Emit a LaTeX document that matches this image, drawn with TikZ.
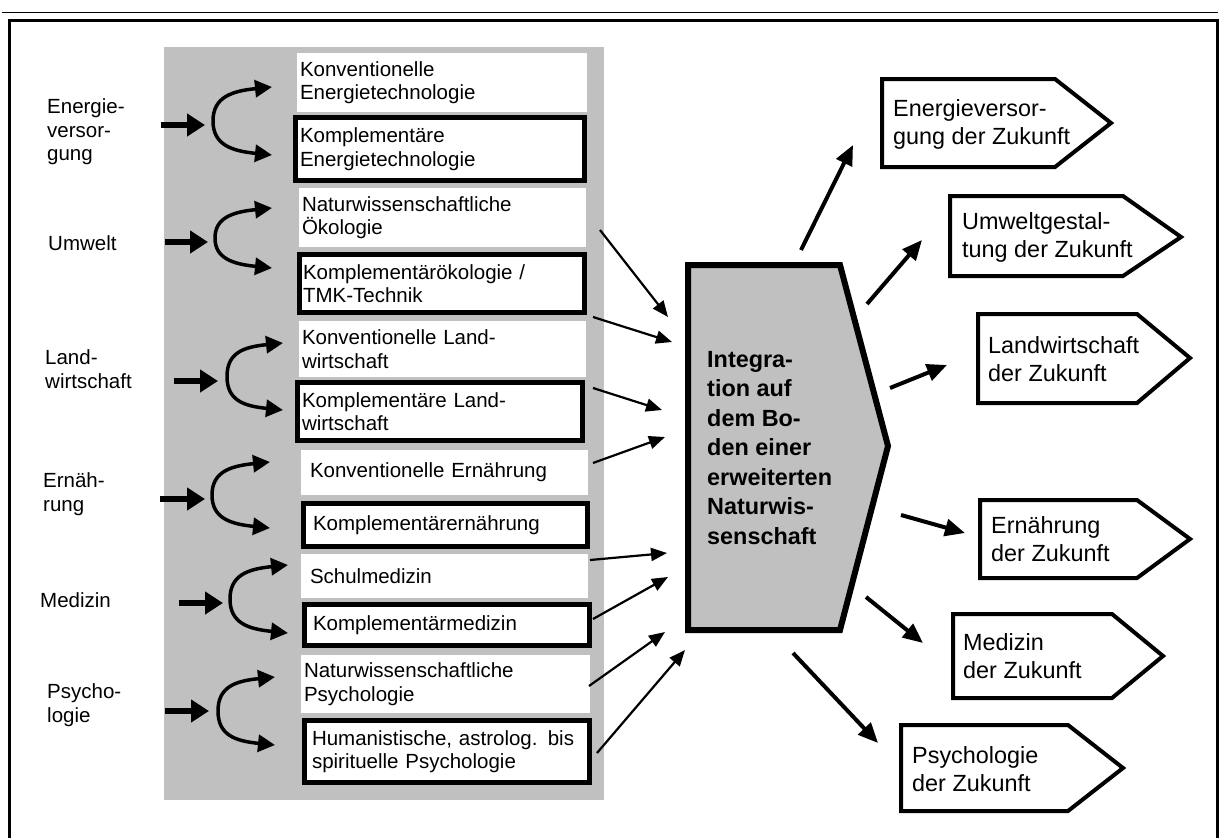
\documentclass[tikz,border=0pt]{standalone}
\usepackage{fontspec}
\setmainfont{Liberation Sans}
\usetikzlibrary{arrows.meta}
\definecolor{panelgrey}{RGB}{192,192,192}

\begin{document}
\begin{tikzpicture}[x=1pt,y=-1pt,
  lefttext/.style={font=\fontsize{20.5}{23.5}\selectfont, align=left, inner sep=0pt, anchor=west},
  wbox/.style={fill=white, font=\fontsize{20.5}{23.5}\selectfont, align=left, inner ysep=0pt},
  kbox/.style={wbox, draw=black, line width=5pt, line join=miter},
  fatarrow/.style={line width=6pt, -{Triangle[length=18pt,width=22pt]}},
  swing/.style={line width=3.5pt, {Triangle[length=17pt,width=17pt]}-{Triangle[length=17pt,width=17pt]}},
  feed/.style={line width=2.2pt, -{Triangle[length=16pt,width=13pt]}},
  outarrow/.style={line width=4pt, -{Triangle[length=20pt,width=17pt]}},
  goal/.style={draw=black, line width=4pt, fill=white, line join=miter},
  goaltext/.style={font=\fontsize{23.4}{28}\selectfont, align=left, inner sep=0pt, anchor=west}
]
\useasboundingbox (0,0) rectangle (1220,838);

% outer frame
\draw[line width=1pt] (2,12) -- (1218,12);
\draw[line width=3pt, line join=miter] (9,838) -- (9,20) -- (1217,20) -- (1217,838);

% grey panel behind the alternatives
\fill[panelgrey] (164,47) rectangle (604,800);

% domain labels
\node[lefttext] (lE)  at (47,132) {Energie-\\versor-\\gung};
\node[lefttext] (lU)  at (48,243) {Umwelt};
\node[lefttext] (lL)  at (45,369) {Land-\\wirtschaft};
\node[lefttext] (lEr) at (43,494) {Ernäh-\\rung};
\node[lefttext] (lM)  at (40,600) {Medizin};
\node[lefttext] (lP)  at (47,705) {Psycho-\\logie};

% conventional / complementary alternatives
\node[wbox, minimum width=290pt, minimum height=59pt, text width=284pt, inner xsep=3pt] (b1) at (442,82.5) {Konventionelle\\Energietechnologie};
\node[kbox, minimum width=289pt, minimum height=63pt, text width=280pt, inner xsep=4.5pt] (b2) at (440,149) {Komplementäre\\Energietechnologie};
\node[wbox, minimum width=287pt, minimum height=59pt, text width=281pt, inner xsep=3pt] (b3) at (442.5,217.5) {Naturwissenschaftliche\\Ökologie};
\node[kbox, minimum width=285pt, minimum height=58pt, text width=278pt, inner xsep=3.5pt] (b4) at (442,283.5) {Komplementärökologie /\\TMK-Technik};
\node[wbox, minimum width=287pt, minimum height=56pt, text width=281pt, inner xsep=3pt] (b5) at (442.5,349) {Konventionelle Land-\\wirtschaft};
\node[kbox, minimum width=285pt, minimum height=58pt, text width=276pt, inner xsep=4.5pt] (b6) at (440,411.5) {Komplementäre Land-\\wirtschaft};
\node[wbox, minimum width=287pt, minimum height=45pt, text width=269pt, inner xsep=9pt] (b7) at (444.5,472.5) {Konventionelle Ernährung};
\node[kbox, minimum width=284pt, minimum height=43pt, text width=265pt, inner xsep=9.5pt] (b8) at (445.5,525) {Komplementärernährung};
\node[wbox, minimum width=287pt, minimum height=44pt, text width=269pt, inner xsep=9pt] (b9) at (444.5,576) {Schulmedizin};
\node[kbox, minimum width=285pt, minimum height=41pt, text width=268pt, inner xsep=8.5pt] (b10) at (447,625) {Komplementärmedizin};
\node[wbox, minimum width=289pt, minimum height=58pt, text width=283pt, inner xsep=3pt] (b11) at (445.5,684) {Naturwissenschaftliche\\Psychologie};
\node[kbox, minimum width=285pt, minimum height=62pt, text width=270pt, inner xsep=7.5pt] (b12) at (447,751.5) {Humanistische, astrolog. bis\\spirituelle Psychologie};

% input arrows and forks into the two alternatives
\foreach \n/\ax/\bx/\y/\xl/\xt/\yu/\yl in {
    E/161/205/125/213/272/87/155,
    U/165/208/242/215/272/208/268,
    L/174/218/381/227/283/343/410,
    Er/160/205/499/212/270/462/528,
    M/179/223/603/230/288/565/633,
    P/165/209/711/218/275/677/745} {
  \coordinate (f\n a) at (\ax,\y);
  \coordinate (f\n b) at (\bx,\y);
  \draw[fatarrow] (f\n a) -- (f\n b);
  \coordinate (s\n u) at (\xt,\yu);
  \coordinate (s\n m) at (\xl,{(\yu+\yl)/2});
  \coordinate (s\n l) at (\xt,\yl);
  \draw[swing] (s\n u) .. controls (\xt-40,\yu+4) and (\xl,\yu+10) .. (s\n m)
               .. controls (\xl,\yl-10) and (\xt-40,\yl-4) .. (s\n l);
}

% central integration block
\draw[line width=6pt, fill=panelgrey, line join=miter]
  (688,265) -- (840,265) -- (888,446) -- (840,630) -- (688,630) -- cycle;
\node[font=\bfseries\fontsize{23.4}{29.5}\selectfont, align=left, anchor=west, inner sep=0pt] (integ) at (707,448)
  {Integra-\\tion auf\\dem Bo-\\den einer\\erweiterten\\Naturwis-\\senschaft};

% feeds into the integration block
\foreach \n/\sx/\sy/\ex/\ey in {
    3/600/230/668/317, 4/593/317/672/342, 6/593/388/662/410, 7/593/463/665/437,
    9/590/560/667/553, 10/593/619/668/577, 11/589/686/665/632, 12/597/753/685/650} {
  \coordinate (in\n s) at (\sx,\sy);
  \coordinate (in\n e) at (\ex,\ey);
  \draw[feed] (in\n s) -- (in\n e);
}

% future fields
\draw[goal] (882,79) -- (1055,79) -- (1111,123) -- (1055,167) -- (882,167) -- cycle;
\node[goaltext] (gE) at (893,124) {Energieversor-\\gung der Zukunft};
\draw[goal] (950,196) -- (1123,196) -- (1181,237) -- (1123,276) -- (950,276) -- cycle;
\node[goaltext] (gU) at (962,237.5) {Umweltgestal-\\tung der Zukunft};
\draw[goal] (978,314) -- (1137,314) -- (1190,358) -- (1137,403) -- (978,403) -- cycle;
\node[goaltext] (gL) at (988,359.5) {Landwirtschaft\\der Zukunft};
\draw[goal] (980,500) -- (1137,500) -- (1190,539) -- (1137,578) -- (980,578) -- cycle;
\node[goaltext] (gEr) at (991,539.5) {Ernährung\\der Zukunft};
\draw[goal] (953,614) -- (1112,614) -- (1163,656) -- (1112,698) -- (953,698) -- cycle;
\node[goaltext] (gM) at (963,656) {Medizin\\der Zukunft};
\draw[goal] (901,725) -- (1068,725) -- (1123,768) -- (1068,811) -- (901,811) -- cycle;
\node[goaltext] (gP) at (912,769) {Psychologie\\der Zukunft};

% arrows towards the future fields
\foreach \n/\sx/\sy/\ex/\ey in {
    1/801/250/853/145, 2/867/304/922/240, 3/890/388/947/365,
    4/901/515/965/533, 5/866/597/923/643, 6/793/653/878/743} {
  \coordinate (o\n s) at (\sx,\sy);
  \coordinate (o\n e) at (\ex,\ey);
  \draw[outarrow] (o\n s) -- (o\n e);
}
\end{tikzpicture}
\end{document}
